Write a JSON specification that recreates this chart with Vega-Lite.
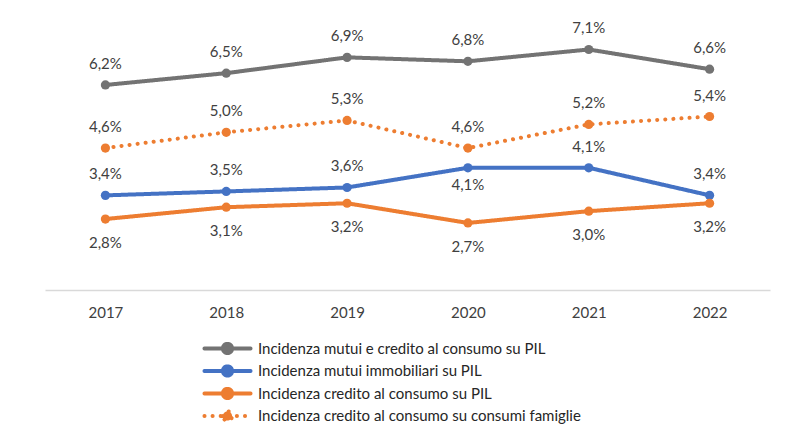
{
  "$schema": "https://vega.github.io/schema/vega-lite/v6.json",
  "autosize": {"type": "none"},
  "width": 725,
  "height": 276,
  "padding": {"left": 45, "top": 14, "right": 30, "bottom": 135},
  "background": "white",
  "config": {
    "locale": {"number": {"decimal": ",", "thousands": ".", "grouping": [3], "currency": ["", " €"]}},
    "view": {"stroke": null},
    "font": "Lato"
  },
  "data": {
    "values": [
      {"anno": "2017", "serie": "Incidenza mutui e credito al consumo su PIL", "valore": 0.062},
      {"anno": "2018", "serie": "Incidenza mutui e credito al consumo su PIL", "valore": 0.065},
      {"anno": "2019", "serie": "Incidenza mutui e credito al consumo su PIL", "valore": 0.069},
      {"anno": "2020", "serie": "Incidenza mutui e credito al consumo su PIL", "valore": 0.068},
      {"anno": "2021", "serie": "Incidenza mutui e credito al consumo su PIL", "valore": 0.071},
      {"anno": "2022", "serie": "Incidenza mutui e credito al consumo su PIL", "valore": 0.066},
      {"anno": "2017", "serie": "Incidenza mutui immobiliari su PIL", "valore": 0.034},
      {"anno": "2018", "serie": "Incidenza mutui immobiliari su PIL", "valore": 0.035},
      {"anno": "2019", "serie": "Incidenza mutui immobiliari su PIL", "valore": 0.036},
      {"anno": "2020", "serie": "Incidenza mutui immobiliari su PIL", "valore": 0.041},
      {"anno": "2021", "serie": "Incidenza mutui immobiliari su PIL", "valore": 0.041},
      {"anno": "2022", "serie": "Incidenza mutui immobiliari su PIL", "valore": 0.034},
      {"anno": "2017", "serie": "Incidenza credito al consumo su PIL", "valore": 0.028},
      {"anno": "2018", "serie": "Incidenza credito al consumo su PIL", "valore": 0.031},
      {"anno": "2019", "serie": "Incidenza credito al consumo su PIL", "valore": 0.032},
      {"anno": "2020", "serie": "Incidenza credito al consumo su PIL", "valore": 0.027},
      {"anno": "2021", "serie": "Incidenza credito al consumo su PIL", "valore": 0.030},
      {"anno": "2022", "serie": "Incidenza credito al consumo su PIL", "valore": 0.032},
      {"anno": "2017", "serie": "Incidenza credito al consumo su consumi famiglie", "valore": 0.046},
      {"anno": "2018", "serie": "Incidenza credito al consumo su consumi famiglie", "valore": 0.050},
      {"anno": "2019", "serie": "Incidenza credito al consumo su consumi famiglie", "valore": 0.053},
      {"anno": "2020", "serie": "Incidenza credito al consumo su consumi famiglie", "valore": 0.046},
      {"anno": "2021", "serie": "Incidenza credito al consumo su consumi famiglie", "valore": 0.052},
      {"anno": "2022", "serie": "Incidenza credito al consumo su consumi famiglie", "valore": 0.054}
    ]
  },
  "encoding": {
    "x": {
      "field": "anno", "type": "ordinal",
      "scale": {"type": "point", "padding": 0.5},
      "axis": {"title": null, "labelAngle": 0, "ticks": false, "grid": false, "domainColor": "#d9d9d9", "domainWidth": 1.5, "labelFontSize": 15, "labelColor": "#404040", "labelFont": "Lato", "labelPadding": 15}
    },
    "y": {"field": "valore", "type": "quantitative", "scale": {"domain": [0.01, 0.08]}, "axis": null}
  },
  "layer": [
    {
      "mark": {"type": "line", "strokeWidth": 4, "strokeCap": "round", "strokeJoin": "round"},
      "encoding": {
        "color": {
          "field": "serie", "type": "nominal",
          "scale": {
            "domain": ["Incidenza mutui e credito al consumo su PIL", "Incidenza mutui immobiliari su PIL", "Incidenza credito al consumo su PIL", "Incidenza credito al consumo su consumi famiglie"],
            "range": ["#737373", "#4472C4", "#ED7D31", "#ED7D31"]
          },
          "legend": {
            "title": null, "orient": "none", "legendX": 175, "legendY": 327, "direction": "vertical",
            "symbolType": "M-5,0L5,0M-1,0A1,1,0,1,1,1,0A1,1,0,1,1,-1,0",
            "symbolSize": 100, "symbolStrokeWidth": 4,
            "labelFontSize": 15, "labelFont": "Lato", "labelColor": "#262626", "labelOffset": 23, "rowPadding": -4.5, "labelLimit": 600,
            "encode": {"symbols": {"update": {"fill": {"scale": "color", "field": "value"}, "stroke": {"scale": "color", "field": "value"}, "opacity": {"value": 1}, "strokeCap": {"value": "round"}}}}
          }
        },
        "strokeDash": {
          "field": "serie", "type": "nominal",
          "scale": {
            "domain": ["Incidenza mutui e credito al consumo su PIL", "Incidenza mutui immobiliari su PIL", "Incidenza credito al consumo su PIL", "Incidenza credito al consumo su consumi famiglie"],
            "range": [[1, 0], [1, 0], [1, 0], [0.1, 8]]
          }
        }
      }
    },
    {
      "mark": {"type": "circle", "opacity": 1},
      "encoding": {
        "color": {
          "field": "serie", "type": "nominal",
          "scale": {
            "domain": ["Incidenza mutui e credito al consumo su PIL", "Incidenza mutui immobiliari su PIL", "Incidenza credito al consumo su PIL", "Incidenza credito al consumo su consumi famiglie"],
            "range": ["#737373", "#4472C4", "#ED7D31", "#ED7D31"]
          }
        },
        "size": {
          "field": "serie", "type": "nominal",
          "scale": {
            "domain": ["Incidenza mutui e credito al consumo su PIL", "Incidenza mutui immobiliari su PIL", "Incidenza credito al consumo su PIL", "Incidenza credito al consumo su consumi famiglie"],
            "range": [85, 85, 85, 130]
          },
          "legend": null
        }
      }
    },
    {
      "transform": [{"filter": "datum.serie !== 'Incidenza credito al consumo su PIL' && !(datum.serie === 'Incidenza mutui immobiliari su PIL' && datum.anno === '2020')"}],
      "mark": {"type": "text", "fontSize": 15, "font": "Lato", "color": "#404040", "dy": -21},
      "encoding": {"text": {"field": "valore", "type": "quantitative", "format": ".1%"}}
    },
    {
      "transform": [{"filter": "datum.serie === 'Incidenza credito al consumo su PIL'"}],
      "mark": {"type": "text", "fontSize": 15, "font": "Lato", "color": "#404040", "dy": 24},
      "encoding": {"text": {"field": "valore", "type": "quantitative", "format": ".1%"}}
    },
    {
      "transform": [{"filter": "datum.serie === 'Incidenza mutui immobiliari su PIL' && datum.anno === '2020'"}],
      "mark": {"type": "text", "fontSize": 15, "font": "Lato", "color": "#404040", "dy": 17},
      "encoding": {"text": {"field": "valore", "type": "quantitative", "format": ".1%"}}
    }
  ]
}
